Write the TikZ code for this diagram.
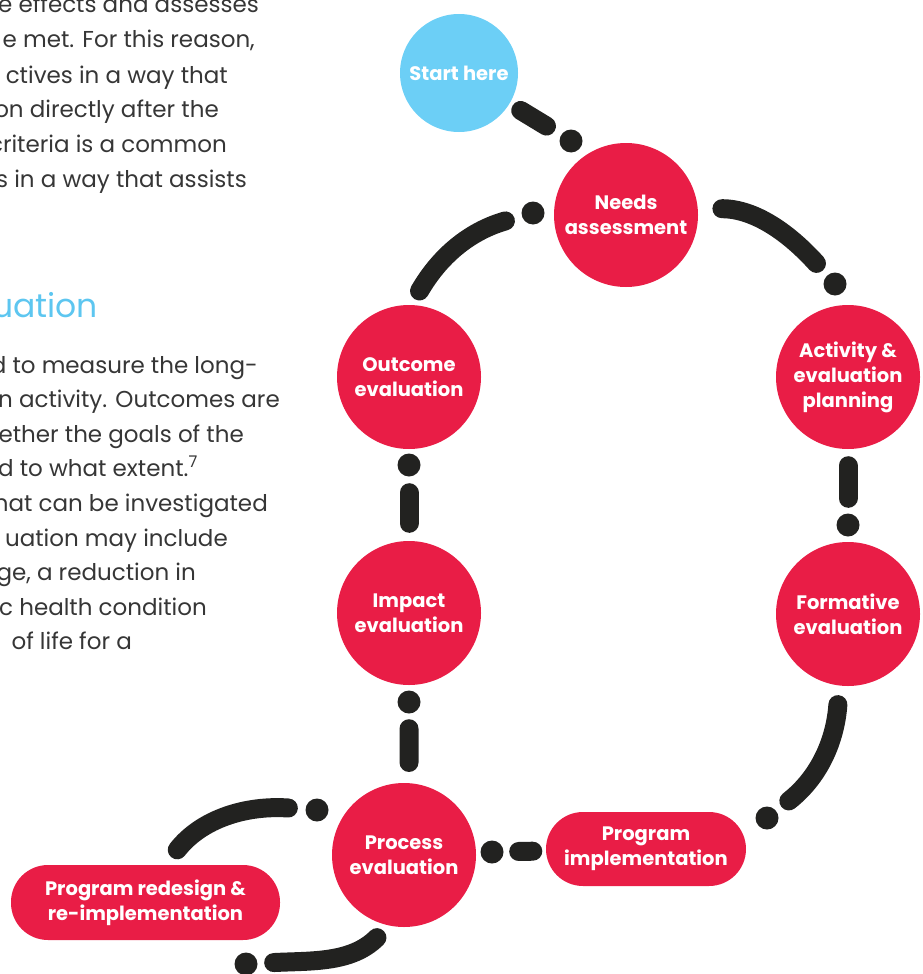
\documentclass[tikz,border=0pt]{standalone}
\usepackage{fontspec}
\setmainfont{Poppins}
\usepackage{xcolor}
\usepackage{tikz}

\definecolor{stagered}{HTML}{E91D46}
\definecolor{startblue}{HTML}{6CCFF6}
\definecolor{ink}{HTML}{222220}
\definecolor{bodygray}{HTML}{363636}
\definecolor{headblue}{HTML}{5DC6F0}

\tikzset{
	stage/.style={circle, fill=stagered, text=white, minimum size=144pt, inner sep=0pt, align=center, font=\fontsize{19.5}{25}\selectfont\bfseries},
	startnode/.style={stage, fill=startblue, minimum size=118pt},
	pill/.style={rectangle, rounded corners=37pt, fill=stagered, text=white, minimum height=74pt, inner sep=0pt, align=center, font=\fontsize{19.5}{25}\selectfont\bfseries},
	dotnode/.style={circle, fill=ink, minimum size=23pt, inner sep=0pt},
	dashline/.style={draw=ink, line width=19pt, line cap=round},
	bodytext/.style={text=bodygray, font=\fontsize{23}{34}\selectfont, anchor=base east, inner sep=0pt},
	headtext/.style={text=headblue, font=\fontsize{33}{40}\selectfont, anchor=base east, inner sep=0pt}
}

\begin{document}
\begin{tikzpicture}[x=1pt, y=1pt]
		\useasboundingbox (0,-974) rectangle (923,0);
		\clip (0,-974) rectangle (923,0);

		% text column, cut at the left edge
		\node[bodytext] (introa) at (259,-13) {e effects and assesses};
		\node[bodytext] (introb) at (255,-48) {e met. For this reason,};
		\node[bodytext] (introc) at (228,-83) {ctives in a way that};
		\node[bodytext] (introd) at (219,-117.5) {on directly after the};
		\node[bodytext] (introe) at (227,-152) {criteria is a common};
		\node[bodytext] (introf) at (247,-187) {s in a way that assists};

		\node[headtext] (heading) at (98,-317) {uation};

		\node[bodytext] (outa) at (258,-373) {d to measure the long-};
		\node[bodytext] (outb) at (280,-407.6) {n activity. Outcomes are};
		\node[bodytext] (outc) at (244,-442.2) {ether the goals of the};
		\node[bodytext] (outd) at (198,-476.8) {d to what extent.\textsuperscript{7}};
		\node[bodytext] (oute) at (268,-511.4) {hat can be investigated};
		\node[bodytext] (outf) at (228,-546) {uation may include};
		\node[bodytext] (outg) at (196,-580.6) {ge, a reduction in};
		\node[bodytext] (outh) at (207,-615.2) {c health condition};
		\node[bodytext] (outi) at (132,-649.8) {of life for a};

		% stages of the cycle
		\node[startnode] (start) at (459,-73) {Start here};
		\node[stage] (needs) at (626,-215) {Needs\\assessment};
		\node[stage] (plan) at (848,-377) {Activity \&\\evaluation\\planning};
		\node[stage] (formative) at (848,-614) {Formative\\evaluation};
		\node[pill, minimum width=200pt] (implement) at (646,-849) {Program\\implementation};
		\node[stage] (process) at (404,-855) {Process\\evaluation};
		\node[stage] (impact) at (409,-613) {Impact\\evaluation};
		\node[stage] (outcome) at (409,-377) {Outcome\\evaluation};
		\node[pill, minimum width=269pt, minimum height=75pt] (redesign) at (145.5,-902.5) {Program redesign \&\\re-implementation};

		% dots
		\node[dotnode] (d1) at (571,-141) {};
		\node[dotnode] (d2) at (835,-284) {};
		\node[dotnode] (d3) at (533,-213) {};
		\node[dotnode] (d4) at (409,-465) {};
		\node[dotnode] (d5) at (409,-702) {};
		\node[dotnode] (d6) at (848,-525) {};
		\node[dotnode] (d7) at (767,-818) {};
		\node[dotnode] (d8) at (492,-852) {};
		\node[dotnode] (d9) at (317,-810) {};
		\node[dotnode] (d10) at (246,-964) {};

		% dashes
		\draw[dashline, shorten <=13pt, shorten >=17pt] (start) -- (d1);
		\draw[dashline, shorten <=24pt, shorten >=16pt] (needs.5) to[out=0, in=132] (d2);
		\draw[dashline, shorten <=17pt, shorten >=16pt] (d3) to[out=196, in=60] (outcome.88);
		\draw[dashline, shorten <=16pt, shorten >=17.5pt] (d4) -- (impact);
		\draw[dashline, shorten <=15pt, shorten >=20.5pt] (d5) -- (process.86);
		\draw[dashline, shorten <=16.5pt, shorten >=15pt] (plan) -- (d6);
		\draw[dashline, shorten <=19pt, shorten >=16pt] (formative.263) to[out=266, in=38] (d7);
		\draw[dashline, shorten <=13pt, shorten >=15pt] (implement) -- (d8);
		\draw[dashline, shorten <=17pt, shorten >=19pt] (d9) to[out=176, in=52] (redesign.62);
		\draw[dashline, shorten <=17pt, shorten >=16pt] (process.258) to[out=225, in=3] (d10);
	\end{tikzpicture}
\end{document}
